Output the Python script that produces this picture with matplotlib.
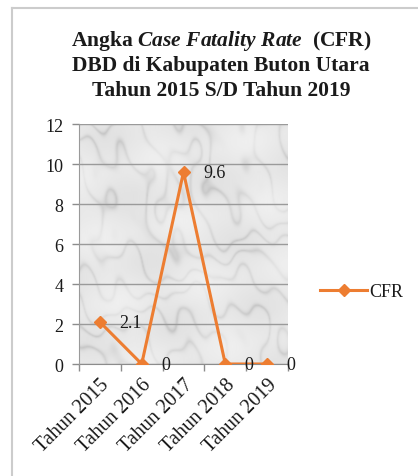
import numpy as np
import matplotlib
matplotlib.use('Agg')
import matplotlib.pyplot as plt
from matplotlib.lines import Line2D

plt.rcParams['font.family'] = 'Liberation Serif'
plt.rcParams['mathtext.fontset'] = 'custom'
plt.rcParams['mathtext.rm'] = 'Liberation Serif:bold'
plt.rcParams['mathtext.it'] = 'Liberation Serif:italic:bold'

# data
tahun = ['Tahun 2015', 'Tahun 2016', 'Tahun 2017', 'Tahun 2018', 'Tahun 2019']
cfr = [2.1, 0, 9.6, 0, 0]
label_cfr = ['2.1', '0', '9.6', '0', '0']

oranye = '#ED7D31'
teks = '#1a1a1a'

fig = plt.figure(figsize=(4.18, 4.77), dpi=100)
ax = fig.add_axes([0.189, 0.2348, 0.5, 0.503])

# latar tekstur marmer (deterministik, hanya hiasan)
yy, xx = np.mgrid[0:240, 0:210].astype(float)
a = np.deg2rad(30)
u = xx * np.cos(a) + yy * np.sin(a)
w = -xx * np.sin(a) + yy * np.cos(a)
t = w / 11. + 2.5 * np.sin(u / 37. + w / 53.) + 1.6 * np.sin(u / 11. + 0.7) * np.sin(w / 19.) \
    + 1.1 * np.sin(u / 6.1 - w / 8.3) * np.cos(w / 13.)
vena = (1 - np.abs(np.sin(t))) ** 3
awan = 0.5 + 0.5 * np.sin(xx / 23. + yy / 29.) * np.cos(yy / 17. - xx / 41.)
marmer = 0.935 - 0.09 * vena * (0.4 + awan) - 0.05 * awan
ax.imshow(marmer, extent=(-0.5, 4.5, 0, 12), aspect='auto', cmap='gray',
          vmin=0, vmax=1, zorder=0, interpolation='bicubic')

x = np.arange(len(tahun))
ax.plot(x, cfr, color=oranye, lw=2.2, marker='D', ms=6.5, zorder=3, label='CFR')

for i, v in enumerate(cfr):
    ax.annotate(label_cfr[i], (x[i], v), xytext=(14, 0), textcoords='offset points',
                ha='left', va='center', fontsize=13, color=teks, zorder=4,
                annotation_clip=False)

ax.set_xlim(-0.5, 4.5)
ax.set_ylim(0, 12)
ax.set_yticks(range(0, 13, 2))
ax.set_xticks(x)
ax.set_xticklabels(tahun, rotation=45, ha='right', rotation_mode='anchor')
ax.set_xticks(np.arange(-0.5, 5, 1), minor=True)
ax.tick_params(axis='x', which='major', length=0, pad=8, labelsize=14.5, labelcolor=teks)
ax.tick_params(axis='x', which='minor', length=5, color='#8c8c8c', width=1)
ax.tick_params(axis='y', length=5, color='#8c8c8c', width=1, labelsize=13,
               labelcolor=teks, pad=6)

ax.grid(axis='y', color='#9a9a9a', lw=1)
ax.set_axisbelow(True)
for s in ['top', 'right']:
    ax.spines[s].set_visible(False)
ax.spines['left'].set_color('#9a9a9a')
ax.spines['bottom'].set_color('#8c8c8c')
ax.spines['bottom'].set_zorder(2)

ax.legend(loc='center left', bbox_to_anchor=(0.745, 0.386), bbox_transform=fig.transFigure,
          frameon=False, fontsize=13, handlelength=2.6, handletextpad=0.1,
          borderpad=0, labelcolor=teks)

# judul
fig.text(0.529, 0.914, r'Angka $Case\ Fatality\ Rate$  (CFR)', ha='center', va='center',
         fontsize=15.5, fontweight='bold', color=teks)
fig.text(0.529, 0.862, 'DBD di Kabupaten Buton Utara', ha='center', va='center',
         fontsize=15.5, fontweight='bold', color=teks)
fig.text(0.529, 0.809, 'Tahun 2015 S/D Tahun 2019', ha='center', va='center',
         fontsize=15.5, fontweight='bold', color=teks)

# bingkai
fig.add_artist(Line2D([12 / 418, 1], [1 - 9 / 477] * 2, transform=fig.transFigure,
                      color='#cccccc', lw=1.5))
fig.add_artist(Line2D([12 / 418] * 2, [0, 1 - 9 / 477], transform=fig.transFigure,
                      color='#cccccc', lw=1.5))

fig.savefig('out.png', dpi=100)
